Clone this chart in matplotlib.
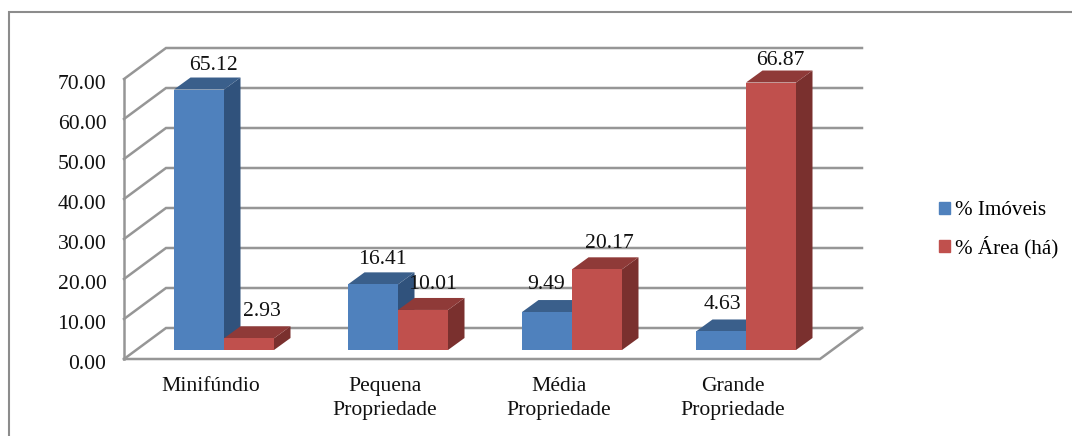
import matplotlib
matplotlib.use('Agg')
import matplotlib.pyplot as plt
from matplotlib.patches import Polygon, Rectangle
from matplotlib.transforms import ScaledTranslation

W = 1072
H = 436

categories = ['Minifúndio', 'Pequena\nPropriedade', 'Média\nPropriedade', 'Grande\nPropriedade']
imoveis = [65.12, 16.41, 9.49, 4.63]
area = [2.93, 10.01, 20.17, 66.87]
yticks = [0, 10, 20, 30, 40, 50, 60, 70]

# hand placed label shifts from the bar centre, in px
shift_imoveis = [15, 9, -1, 1.5]
shift_area = [13, 10, 12, 9]
lift_imoveis = [3, 3, 6, 5]
lift_area = [5, 4, 4, 1]

BLUE = ['#4f81bd', '#3a5f8b', '#30527c']
RED = ['#c0504d', '#8f3a38', '#7a302e']
GRID = '#969696'
INK = '#111111'

# one value unit is 4 px, one category is 174 px
PX_X = 1 / 174
PX_Y = 1 / 4
floor_dx = 42 * PX_X
floor_dy = 31 * PX_Y
inset_dx = 12 * PX_X
inset_dy = 9 * PX_Y
depth_dx = 16.5 * PX_X
depth_dy = 12 * PX_Y
bar_w = 50 * PX_X
bar_start = 38 * PX_X

plt.rcParams['font.family'] = ['Liberation Serif', 'DejaVu Serif']

fig = plt.figure(figsize=(W / 100, H / 100), dpi=100)
fig.patches.append(Rectangle((9 / W, -0.01), 1.1, 1 - 12 / H + 0.01, transform=fig.transFigure,
                             fill=False, edgecolor='#8c8c8c', linewidth=1.5))

ax = fig.add_axes([124 / W, 1 - 359 / H, 696 / W, 280 / H])
ax.set_xlim(0, 4)
ax.set_ylim(0, 70)
ax.patch.set_visible(False)
for s in ax.spines.values():
    s.set_visible(False)


def wall_lines():
    for v in yticks:
        # slanted piece on the side wall, then the back wall line
        ax.plot([0, floor_dx, 4 + floor_dx], [v, v + floor_dy, v + floor_dy],
                color=GRID, lw=1.8, clip_on=False, zorder=1, solid_joinstyle='miter')
    ax.plot([0, 0], [0, 70], color=GRID, lw=1.8, clip_on=False, zorder=1)
    ax.plot([0, 4, 4 + floor_dx], [0, 0, floor_dy], color=GRID, lw=1.8, clip_on=False, zorder=1,
            solid_joinstyle='miter')


def bar3d(x, v, colors, z, shift, lift):
    x0 = x + inset_dx
    x1 = x0 + bar_w
    y0 = inset_dy
    y1 = inset_dy + v
    dx = depth_dx
    dy = depth_dy
    ax.add_patch(Polygon([(x1, y0), (x1 + dx, y0 + dy), (x1 + dx, y1 + dy), (x1, y1)],
                         facecolor=colors[2], edgecolor='none', clip_on=False, zorder=z))
    ax.add_patch(Polygon([(x0, y1), (x1, y1), (x1 + dx, y1 + dy), (x0 + dx, y1 + dy)],
                         facecolor=colors[1], edgecolor='none', clip_on=False, zorder=z))
    ax.add_patch(Rectangle((x0, y0), bar_w, v, facecolor=colors[0], edgecolor='none',
                           clip_on=False, zorder=z + 0.1))
    ax.text((x0 + x1) / 2 + shift * PX_X, y1 + dy + lift * PX_Y, f'{v:.2f}', ha='center', va='bottom',
            fontsize=15.6, color=INK, zorder=10, clip_on=False)


wall_lines()
for i in range(len(categories)):
    bar3d(i + bar_start, imoveis[i], BLUE, 3, shift_imoveis[i], lift_imoveis[i])
    bar3d(i + bar_start + bar_w, area[i], RED, 4, shift_area[i], lift_area[i])

ax.set_yticks(yticks)
ax.set_yticklabels([f'{v:.2f}' for v in yticks], fontsize=15.6, color=INK)
ax.set_xticks([i + 0.5 for i in range(4)])
ax.set_xticklabels(categories, fontsize=15.6, color=INK, linespacing=1.32)
ax.tick_params(axis='y', length=0, pad=12.7)
ax.tick_params(axis='x', length=0, pad=13)

# tick text sits a little under its gridline
nudge = ScaledTranslation(0, -3 / 100, fig.dpi_scale_trans)
for lab in ax.get_yticklabels():
    lab.set_transform(lab.get_transform() + nudge)

# legend squares and labels
handles = [Rectangle((0, 0), 1, 1, color=BLUE[0]), Rectangle((0, 0), 1, 1, color=RED[0])]
fig.legend(handles, ['% Imóveis', '% Área (há)'], loc='center left',
           bbox_to_anchor=(939 / W, 1 - 230 / H), frameon=False, fontsize=15.2,
           handlelength=0.52, handleheight=0.52, handletextpad=0.24, labelspacing=0.75,
           borderpad=0, borderaxespad=0)

fig.savefig('out.png', dpi=100)
